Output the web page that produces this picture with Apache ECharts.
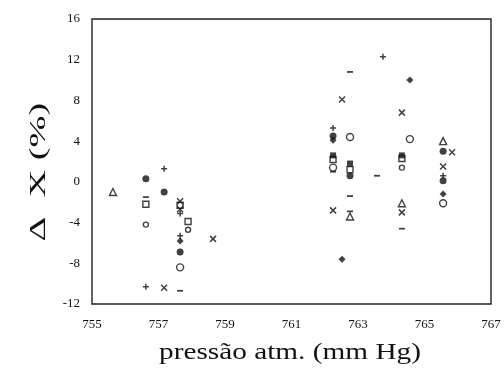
<!DOCTYPE html>
<html>
<head>
<meta charset="utf-8">
<script src="https://cdn.jsdelivr.net/npm/echarts@6/dist/echarts.min.js"></script>
<style>html,body{margin:0;padding:0;background:#fff}#c{width:504px;height:372px}</style>
</head>
<body>
<div id="c"></div>
<script>
var xTicks = [755, 757, 759, 761, 763, 765, 767];
var yTicks = [-12, -8, -4, 0, 4, 8, 12, 16];
var xTitle = 'pressão atm. (mm Hg)';
var yTitle = 'Δ  X (%)';

var openTriangle = [[755.63,-1.0],[762.76,-3.4],[764.32,-2.1],[765.56,4.0]];
var filledCircle = [[756.62,0.3],[757.17,-1.0],[757.65,-6.9],[762.25,4.5],[762.76,0.6],[765.56,3.0],[765.56,0.1]];
var openCircle = [[757.65,-8.4],[762.76,4.4],[764.56,4.2],[765.56,-2.1],[762.25,1.4]];
var smallOpenCircle = [[756.62,-4.2],[757.89,-4.7],[764.32,1.4]];
var openSquare = [[756.62,-2.2],[757.89,-3.9],[757.65,-2.3],[762.25,2.2],[762.76,1.2],[764.32,2.3]];
var filledSquare = [[762.76,1.8],[764.32,2.6],[762.25,2.6]];
var crossX = [[757.17,-10.4],[757.65,-1.9],[757.65,-2.7],[758.64,-5.6],[762.52,8.1],[762.25,-2.8],[764.32,6.8],[764.32,-3.0],[765.83,2.9],[765.56,1.5]];
var plusMark = [[756.62,-10.3],[757.17,1.3],[757.65,-3.1],[757.65,-5.3],[763.75,12.3],[762.25,5.3],[765.56,0.6]];
var dashMark = [[756.62,-1.5],[757.65,-10.7],[762.76,10.8],[763.57,0.6],[762.76,-1.4],[762.76,-2.9],[764.32,-4.6],[762.25,1.0]];
var filledDiamond = [[757.65,-5.8],[762.25,4.1],[762.52,-7.6],[764.56,10.0],[765.56,-1.2]];

var ink = '#111';
function ser(data, symbol, size, style) {
  return {type:'scatter', data:data, symbol:symbol, symbolSize:size, symbolKeepAspect:true,
    itemStyle:style, emphasis:{disabled:true}, z:3};
}
var filled = {color:ink, borderWidth:0};
var open = {color:'#fff', borderColor:ink, borderWidth:1.4};
var stroke = {color:'rgba(0,0,0,0)', borderColor:ink, borderWidth:1.5};

var chart = echarts.init(document.getElementById('c'), null, {renderer:'canvas'});
chart.setOption({
  animation:false,
  backgroundColor:'#fff',
  grid:{left:92, right:13, top:19, bottom:68, show:true, borderColor:'#222', borderWidth:1.4, backgroundColor:'transparent'},
  xAxis:{type:'value', min:xTicks[0], max:xTicks[xTicks.length-1], interval:2,
    axisLine:{show:false}, axisTick:{show:false}, splitLine:{show:false},
    axisLabel:{color:'#111', fontFamily:'Liberation Serif', fontSize:13, margin:14}},
  yAxis:{type:'value', min:yTicks[0], max:yTicks[yTicks.length-1], interval:4,
    axisLine:{show:false}, axisTick:{show:false}, splitLine:{show:false},
    axisLabel:{color:'#111', fontFamily:'Liberation Serif', fontSize:13, margin:12}},
  graphic:[
    {type:'text', x:290, y:353, scaleX:1.22, scaleY:1,
      style:{text:xTitle, fontFamily:'Liberation Serif', fontSize:24, fill:'#111', align:'center', verticalAlign:'middle'}},
    {type:'text', x:39, y:172, rotation:Math.PI/2, scaleX:1.6, scaleY:1,
      style:{text:yTitle, fontFamily:'Liberation Serif', fontSize:24, fill:'#111', align:'center', verticalAlign:'middle'}}
  ],
  series:[
    ser(openTriangle,'triangle',7,open),
    ser(filledCircle,'circle',7,filled),
    ser(openCircle,'circle',7,open),
    ser(smallOpenCircle,'circle',5,open),
    ser(openSquare,'rect',6,open),
    ser(filledSquare,'rect',6,filled),
    ser(crossX,'path://M0,0L10,10M10,0L0,10',6,stroke),
    ser(plusMark,'path://M5,0L5,10M0,5L10,5',6,stroke),
    ser(dashMark,'rect',[6,1.8],filled),
    ser(filledDiamond,'diamond',7,filled)
  ]
});
</script>
</body>
</html>
